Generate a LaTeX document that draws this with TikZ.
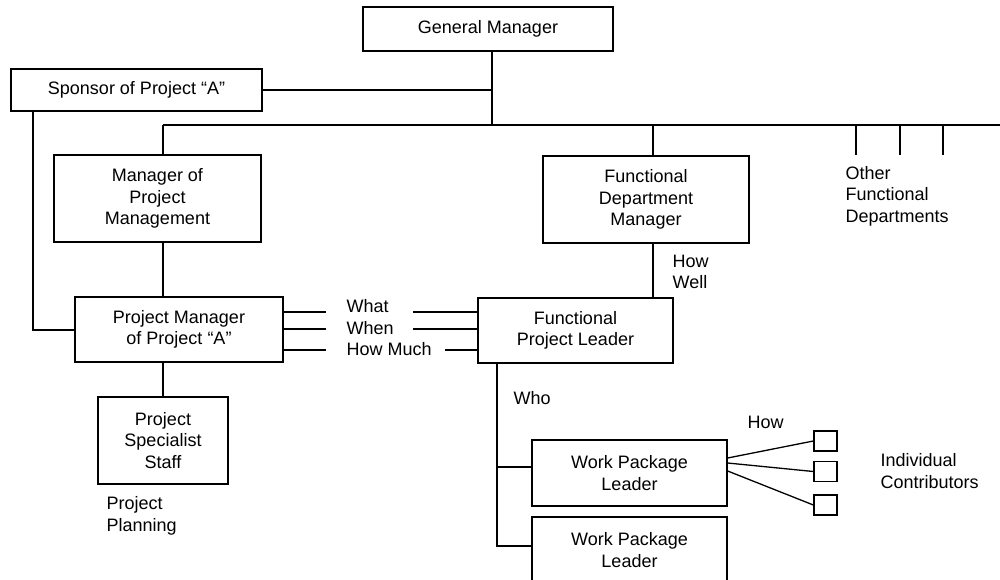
\documentclass[tikz,border=0pt]{standalone}
\usepackage{fontspec}
\setmainfont{Liberation Sans}
\usetikzlibrary{
  calc,
  positioning,
}
\tikzstyle{box} = [
  draw,
  rectangle,
  align=center,
  font=\fontsize{18}{21.5}\selectfont,
]
\tikzstyle{tag} = [
  inner sep=0pt,
  anchor=west,
  align=left,
  font=\fontsize{18}{21.5}\selectfont,
]

\begin{document}
\begin{tikzpicture}[x=1pt,y=-1pt,line width=1.3pt]
        \useasboundingbox (0,0) rectangle (1000,580);

        \node[box,minimum width=250,minimum height=44]    (gm)      at (488,29)      {General Manager};
        \node[box,minimum width=251,minimum height=42]    (sponsor) at (136.5,90)    {Sponsor of Project “A”};
        \node[box,minimum width=207,minimum height=87]    (mpm)     at (157.5,198.5) {Manager of\\Project\\Management};
        \node[box,minimum width=206,minimum height=87]    (fdm)     at (646,199.5)   {Functional\\Department\\Manager};
        \node[box,minimum width=208,minimum height=65]    (pm)      at (179,329.5)   {Project Manager\\of Project “A”};
        \node[box,minimum width=195,minimum height=65]    (fpl)     at (575.5,330.5) {Functional\\Project Leader};
        \node[box,minimum width=130,minimum height=87]    (pss)     at (163,440.5)   {Project\\Specialist\\Staff};
        \node[box,minimum width=195,minimum height=66]    (wpl1)    at (629.5,473)   {Work Package\\Leader};
        \node[box,minimum width=195,minimum height=66]    (wpl2)    at (629.5,550)   {Work Package\\Leader};
        \node[box,minimum width=23,minimum height=20]     (ic1)     at (825.5,441)   {};
        \node[box,minimum width=23,minimum height=20]     (ic2)     at (825.5,471.5) {};
        \node[box,minimum width=23,minimum height=20]     (ic3)     at (825.5,505)   {};

        \node[tag] (what)     at (346,306) {What};
        \node[tag] (when)     at (346,328) {When};
        \node[tag] (howmuch)  at (346,349) {How Much};
        \node[tag] (howwell)  at (672,272) {How\\Well};
        \node[tag] (who)      at (513,398) {Who};
        \node[tag] (how)      at (747,422) {How};
        \node[tag] (others)   at (845,196) {Other\\Functional\\Departments};
        \node[tag] (planning) at (106,516) {Project\\Planning};
        \node[tag] (contrib)  at (880,471) {Individual\\Contributors};

        \coordinate (trunk) at (492,125);
        \coordinate (busL)  at (163,125);
        \coordinate (busR)  at (1000,125);
        \coordinate (fdrop) at (653,125);
        \coordinate (spx)   at (33,330);
        \coordinate (whox)  at (497,546);

        \draw (gm.south -| trunk) -- (trunk);
        \draw (sponsor.east) -- (sponsor.east -| trunk);
        \draw (busL) -- (busR);
        \draw (busL) -- (busL |- mpm.north);
        \draw (fdrop) -- (fdrop |- fdm.north);
        \foreach \x [count=\i] in {856,900,943} {
            \coordinate (od\i) at (\x,155);
            \draw (od\i |- busR) -- (od\i);
        }
        \draw (busL |- mpm.south) -- (busL |- pm.north);
        \draw (sponsor.south -| spx) -- (spx) -- (spx -| pm.west);
        \draw (busL |- pm.south) -- (pss.north);
        \draw (fdrop |- fdm.south) -- (fdrop |- fpl.north);
        \foreach \y/\s in {312/413,329/413,350/445} {
            \draw (pm.east |- 0,\y) -- (326,\y);
            \draw (\s,\y) -- (fpl.west |- 0,\y);
        }
        \draw (whox |- fpl.south) -- (whox) -- (whox -| wpl2.west);
        \draw ([yshift=6]wpl1.west -| whox) -- ([yshift=6]wpl1.west);
        \draw ([yshift=15]wpl1.east) -- (ic1.west);
        \draw ([yshift=10]wpl1.east) -- (ic2.west);
        \draw ([yshift=2]wpl1.east) -- (ic3.west);
    \end{tikzpicture}
\end{document}
